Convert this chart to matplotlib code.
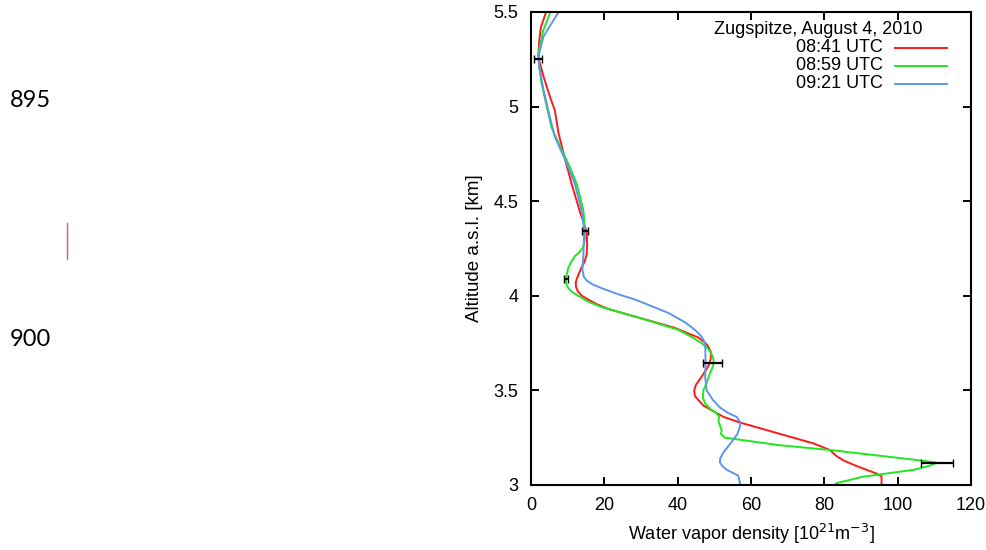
import matplotlib
matplotlib.use('Agg')
import matplotlib.pyplot as plt
from matplotlib.lines import Line2D

plt.rcParams['font.family'] = ['Liberation Sans', 'DejaVu Sans']

# profiles: density [10^21 m^-3] vs altitude [km]
red_alt = [5.51, 5.42, 5.34, 5.26, 5.16, 5.05, 4.98, 4.86, 4.72, 4.59, 4.44, 4.35, 4.33, 4.27, 4.22,
           4.18, 4.15, 4.11, 4.09, 4.07, 4.045, 4.02, 4.0, 3.98, 3.955, 3.93, 3.88, 3.83, 3.80, 3.78,
           3.75, 3.73, 3.70, 3.665, 3.63, 3.595, 3.56, 3.53, 3.50, 3.47, 3.45, 3.42, 3.40,
           3.36, 3.33, 3.27, 3.22, 3.185, 3.15, 3.13, 3.10, 3.06, 3.044, 3.01, 2.99]
red_val = [4.3, 2.7, 2.2, 2.0, 3.4, 5.2, 6.5, 7.5, 9.3, 11.1, 13.4, 15.0, 15.2, 15.3, 15.2,
           14.6, 13.8, 12.9, 12.5, 12.2, 12.3, 12.9, 13.9, 15.6, 18.0, 21.1, 30.2, 39.3, 43.0, 45.6,
           47.6, 48.4, 49.1, 49.0, 48.4, 47.3, 46.1, 45.0, 44.5, 44.7, 45.6, 47.0, 48.8,
           52.5, 57.0, 67.9, 77.0, 81.5, 83.5, 85.2, 88.8, 94.3, 95.6, 95.6, 95.5]

green_alt = [5.51, 5.40, 5.30, 5.25, 5.12, 5.0, 4.89, 4.77, 4.68, 4.59, 4.45, 4.35, 4.30, 4.26, 4.23,
             4.21, 4.18, 4.15, 4.11, 4.08, 4.06, 4.04, 4.02, 4.0, 3.97, 3.94, 3.88, 3.82, 3.78, 3.75,
             3.72, 3.69, 3.66, 3.63, 3.59, 3.54, 3.50, 3.46, 3.43, 3.40, 3.38,
             3.36, 3.34, 3.31, 3.29, 3.27, 3.25, 3.21, 3.185, 3.13, 3.118, 3.10, 3.08, 3.044, 3.01, 2.99]
green_val = [5.5, 3.3, 2.2, 2.0, 2.9, 4.3, 5.6, 8.4, 10.6, 12.5, 14.3, 14.7, 14.7, 14.3, 13.2,
             12.0, 11.0, 10.2, 9.7, 9.5, 9.7, 10.2, 11.2, 12.9, 15.5, 19.3, 30.2, 40.2, 44.0, 46.5,
             48.3, 49.3, 49.8, 49.7, 48.8, 47.9, 47.0, 46.9, 47.5, 49.0, 50.6,
             51.3, 51.1, 51.6, 52.0, 51.8, 52.9, 67.9, 81.5, 106.1, 110.6, 108.5, 104.3, 90.6, 83.4, 82.0]

blue_alt = [5.51, 5.44, 5.37, 5.28, 5.21, 5.09, 4.98, 4.84, 4.72, 4.59, 4.45, 4.35, 4.22, 4.14, 4.10,
            4.08, 4.06, 4.04, 4.01, 3.98, 3.91, 3.86, 3.82, 3.785, 3.75, 3.66, 3.57, 3.50, 3.45, 3.41,
            3.38, 3.36, 3.33, 3.31, 3.27, 3.24, 3.17, 3.14, 3.12, 3.10, 3.08, 3.05, 3.01, 2.99]
blue_val = [7.9, 5.6, 3.4, 2.2, 2.2, 3.4, 4.7, 6.5, 9.3, 12.0, 13.8, 14.5, 14.3, 14.0, 14.4,
            15.2, 16.8, 19.3, 23.5, 28.4, 37.4, 42.0, 44.7, 46.5, 47.5, 47.6, 47.5, 47.9, 49.6, 51.5,
            53.8, 56.1, 57.1, 57.0, 56.3, 55.2, 52.4, 51.6, 51.5, 52.2, 53.4, 56.5, 57.0, 57.0]

err_alt = [5.25, 4.34, 4.09, 3.643, 3.115]
err_val = [2.0, 14.7, 9.6, 49.6, 110.8]
err_size = [1.1, 0.9, 0.6, 2.6, 4.35]

labels = ['08:41 UTC', '08:59 UTC', '09:21 UTC']
colors = ['#ff1a1a', '#1ee81e', '#5a96f0']
title = 'Zugspitze, August 4, 2010'

fig = plt.figure(figsize=(9.87, 5.5), dpi=100)
ax = fig.add_axes([0.538, 0.1182, 0.4458, 0.8600])

series = [(red_val, red_alt), (green_val, green_alt), (blue_val, blue_alt)]
for (v, a), c in zip(series, colors):
    ax.plot(v, a, color=c, lw=1.4, solid_joinstyle='round')

ax.errorbar(err_val, err_alt, xerr=err_size, fmt='none', ecolor='black',
            elinewidth=1.6, capsize=3, capthick=1.0, zorder=5)

ax.set_xlim(0, 120)
ax.set_ylim(3, 5.5)
ax.set_xticks([0, 20, 40, 60, 80, 100, 120])
ax.set_yticks([3, 3.5, 4, 4.5, 5, 5.5])
ax.set_yticklabels(['3', '3.5', '4', '4.5', '5', '5.5'])
ax.tick_params(direction='in', top=True, right=True, length=6, width=1.4,
               labelsize=13, pad=9)
for s in ax.spines.values():
    s.set_linewidth(1.5)

ax.set_xlabel('Water vapor density [10$^{21}$m$^{-3}$]', fontsize=13, labelpad=5)
ax.set_ylabel('Altitude a.s.l. [km]', fontsize=13.5, labelpad=8)

# key, drawn gnuplot style (text right, sample line after it)
ax.text(0.889, 0.962, title, transform=ax.transAxes, ha='right', va='center', fontsize=13)
for i, (lab, c) in enumerate(zip(labels, colors)):
    y = 0.924 - i * 0.038
    ax.text(0.80, y, lab, transform=ax.transAxes, ha='right', va='center', fontsize=13)
    ax.plot([0.827, 0.945], [y, y], color=c, lw=1.4, transform=ax.transAxes)

# stray bits at the left of the page
fig.text(0.010, 1 - 100 / 550, '895', fontsize=17, family='Lato', va='center', ha='left')
fig.text(0.010, 1 - 340 / 550, '900', fontsize=17, family='Lato', va='center', ha='left')
fig.add_artist(Line2D([67 / 987, 67 / 987], [1 - 223 / 550, 1 - 259 / 550],
                      color='#e85a5a', lw=1.0, transform=fig.transFigure))

fig.savefig('out.png', dpi=100)
